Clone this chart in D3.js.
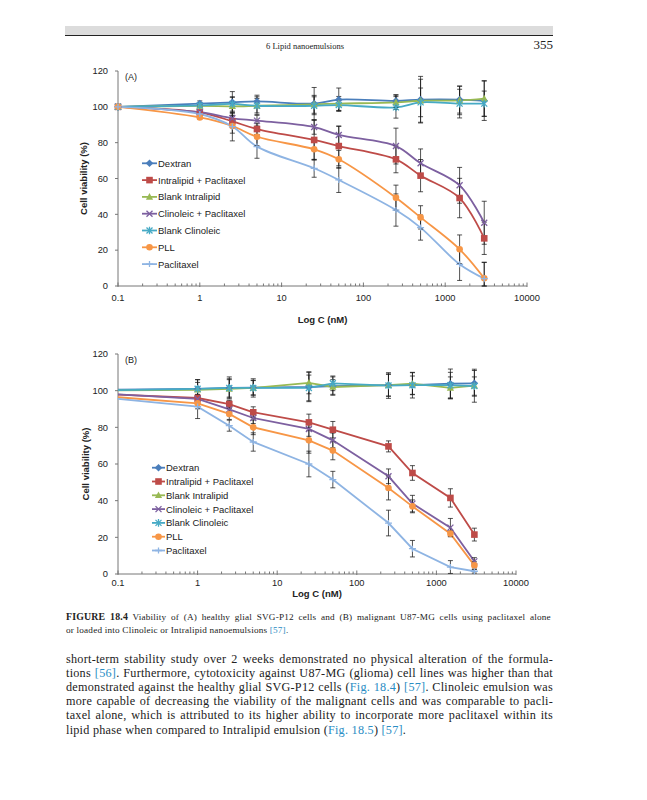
<!DOCTYPE html>
<html>
<head>
<meta charset="utf-8">
<script src="https://cdn.jsdelivr.net/npm/d3@7"></script>
<style>
  body { margin: 0; background: #fff; }
  svg { display: block; }
</style>
</head>
<body>
<div id="page"></div>
<script>
// concentrations (nM) and shared labels
const conc = [0.1, 1, 2.5, 5, 25, 50, 250, 500, 1500, 3000];
const seriesNames = ["Dextran", "Intralipid + Paclitaxel", "Blank Intralipid",
  "Clinoleic + Paclitaxel", "Blank Clinoleic", "PLL", "Paclitaxel"];
const seriesColors = ["#4a7ebb", "#be4b48", "#98b954", "#7d60a0", "#46aac5", "#f79646", "#8eb4e3"];
const seriesMarkers = ["diamond", "square", "triangle", "x", "star", "circle", "plus"];
const yTickValues = [0, 20, 40, 60, 80, 100, 120];
const xTickValues = [0.1, 1, 10, 100, 1000, 10000];

// (A) healthy glial SVG-P12 cells
const dextranA    = [100, 101.8, 102.5, 103, 101.8, 104, 103.3, 104, 104, 103.4];
const intraPacA   = [100, 96.9, 91.9, 87.6, 81.5, 78.1, 70.7, 61.6, 49.1, 26.6];
const blankIntraA = [100, 100.5, 100.3, 100.6, 101.4, 101.8, 102.5, 103.4, 103.6, 104.6];
const clinoPacA   = [100, 97, 93.6, 92.3, 88.7, 84.3, 78.1, 68.5, 56.2, 35.3];
const blankClinoA = [100, 100.8, 101.6, 100.6, 100.6, 101, 99.7, 102.5, 101.8, 101.8];
const pllA        = [100, 94.1, 89.3, 83.3, 76.3, 70.7, 49.3, 38.3, 20.5, 4.3];
const paclitaxelA = [100, 96, 89, 77.8, 65.7, 59.2, 42.4, 32.6, 12.1, 4.1];

const dextranAErr    = [0, 1.5, 6, 3.5, 9, 6.5, 3.5, 13, 7.5, 11];
const intraPacAErr   = [0, 1, 3, 3, 11, 11, 7.5, 9, 11, 9];
const blankIntraAErr = [0, 1, 5, 5, 5, 4, 4, 12, 8, 10];
const clinoPacAErr   = [0, 1, 3, 3, 4, 5, 10, 8, 10, 12];
const blankClinoAErr = [0, 1, 4, 4, 5, 3, 6, 8, 8, 7];
const pllAErr        = [0, 1, 4, 5, 6, 5, 7, 6.5, 8, 9];
const paclitaxelAErr = [0, 1, 8, 6.5, 5, 7, 9, 7, 9, 9];

// (B) malignant U87-MG cells
const dextranB    = [100.5, 101, 101.5, 101.7, 102, 102.5, 103, 103, 103.8, 104];
const intraPacB   = [97.8, 96, 92.7, 88.2, 82.7, 78.7, 69.6, 55.1, 41.5, 21.5];
const blankIntraB = [100.2, 100.5, 101, 101.5, 104.3, 102, 103, 103.8, 101.5, 102.7];
const clinoPacB   = [98, 95.5, 89.8, 85.1, 79.1, 72.9, 53.3, 38.4, 25.3, 6.9];
const blankClinoB = [100.3, 101, 101.5, 101.5, 101.5, 104, 102.8, 103, 103, 102.5];
const pllB        = [96.4, 93.1, 87.3, 80, 72.9, 67.3, 46.9, 36.9, 22, 4.7];
const paclitaxelB = [95.5, 91.3, 80.9, 72, 60, 51.5, 27.8, 13.8, 3.8, 1.5];

const dextranBErr    = [0, 5, 6, 4, 8, 5, 6, 7, 8, 7];
const intraPacBErr   = [0, 2, 2, 3, 4.5, 4.5, 3, 4, 5, 3.5];
const blankIntraBErr = [0, 4, 5, 5, 6, 4, 6, 6, 6, 9];
const clinoPacBErr   = [0, 2, 3, 3, 4, 4, 4, 4.5, 5, 2];
const blankClinoBErr = [0, 5, 5, 4, 7, 4, 7, 5, 7, 5];
const pllBErr        = [0, 3, 3, 4, 7, 5, 6.5, 3.5, 1.5, 2];
const paclitaxelBErr = [0, 6.5, 3, 5, 7, 4.5, 7, 4.5, 3.5, 1];

const W = 647, H = 800;
const svg = d3.select("#page").append("svg").attr("width", W).attr("height", H);

// running header
svg.append("rect").attr("x", 65).attr("y", 26).attr("width", 488).attr("height", 9).attr("fill", "#dcdcdc");
svg.append("line").attr("x1", 65).attr("x2", 553).attr("y1", 35.5).attr("y2", 35.5)
  .attr("stroke", "#222").attr("stroke-width", 1.2);
svg.append("text").attr("x", 305).attr("y", 49).attr("text-anchor", "middle")
  .attr("font-family", "Liberation Serif").attr("font-size", 8.5).attr("fill", "#222")
  .text("6  Lipid nanoemulsions");
svg.append("text").attr("x", 553).attr("y", 49).attr("text-anchor", "end")
  .attr("font-family", "Liberation Serif").attr("font-size", 13).attr("fill", "#222")
  .text("355");

function markerPath(type) {
  switch (type) {
    case "diamond": return "M0,-3.8L3.8,0L0,3.8L-3.8,0Z";
    case "square": return "M-3.3,-3.3H3.3V3.3H-3.3Z";
    case "triangle": return "M0,-3.8L3.6,2.8H-3.6Z";
    case "x": return "M-3,-3L3,3M-3,3L3,-3";
    case "star": return "M-3,-3L3,3M-3,3L3,-3M0,-3.8V3.8";
    case "plus": return "M-3.5,0H3.5M0,-3V3";
  }
  return null;
}

function drawMarker(g, type, color) {
  if (type === "circle") {
    g.append("circle").attr("r", 3.3).attr("fill", color);
  } else if (["x", "star", "plus"].includes(type)) {
    g.append("path").attr("d", markerPath(type)).attr("fill", "none")
      .attr("stroke", color).attr("stroke-width", 1.3);
  } else {
    g.append("path").attr("d", markerPath(type)).attr("fill", color);
  }
}

function drawPanel(cfg) {
  const x = d3.scaleLog().domain([0.1, 10000]).range([cfg.left, cfg.right]);
  const y = d3.scaleLinear().domain([0, 120]).range([cfg.bottom, cfg.top]);
  const g = svg.append("g");
  const font = "Liberation Sans, Arial, sans-serif";

  // axes
  g.append("line").attr("x1", cfg.left).attr("x2", cfg.left).attr("y1", cfg.top).attr("y2", cfg.bottom)
    .attr("stroke", "#777").attr("stroke-width", 1);
  g.append("line").attr("x1", cfg.left).attr("x2", cfg.right).attr("y1", cfg.bottom).attr("y2", cfg.bottom)
    .attr("stroke", "#777").attr("stroke-width", 1);

  g.selectAll(".ytl").data(yTickValues).enter().append("text")
    .attr("x", cfg.left - 10).attr("y", d => y(d) + 3.3)
    .attr("text-anchor", "end").attr("font-family", font).attr("font-size", 9.3).attr("fill", "#222")
    .text(d => d);
  g.selectAll(".ytk").data(yTickValues).enter().append("line")
    .attr("x1", cfg.left - 3).attr("x2", cfg.left).attr("y1", d => y(d)).attr("y2", d => y(d))
    .attr("stroke", "#777");

  // log ticks: decades plus minor 2..9
  const minor = [];
  for (let p = -1; p < 4; p++) for (let k = 2; k <= 9; k++) minor.push(k * Math.pow(10, p));
  g.selectAll(".xmn").data(minor).enter().append("line")
    .attr("x1", d => x(d)).attr("x2", d => x(d)).attr("y1", cfg.bottom - 2.5).attr("y2", cfg.bottom)
    .attr("stroke", "#777");
  g.selectAll(".xmj").data(xTickValues).enter().append("line")
    .attr("x1", d => x(d)).attr("x2", d => x(d)).attr("y1", cfg.bottom - 3.5).attr("y2", cfg.bottom + 1)
    .attr("stroke", "#777");
  g.selectAll(".xtl").data(xTickValues).enter().append("text")
    .attr("x", d => x(d)).attr("y", cfg.xLabelY).attr("text-anchor", "middle")
    .attr("font-family", font).attr("font-size", 9.3).attr("fill", "#222")
    .text(d => d3.format("~g")(d));

  g.append("text").attr("x", (cfg.left + cfg.right) / 2).attr("y", cfg.xTitleY).attr("text-anchor", "middle")
    .attr("font-family", font).attr("font-size", 9.5).attr("font-weight", "bold").attr("fill", "#222")
    .text("Log C (nM)");
  g.append("text").attr("transform", `translate(${cfg.yTitleX},${(cfg.top + cfg.bottom) / 2}) rotate(-90)`)
    .attr("text-anchor", "middle").attr("font-family", font).attr("font-size", 9.5)
    .attr("font-weight", "bold").attr("fill", "#222").text("Cell viability (%)");
  g.append("text").attr("x", cfg.left + 7).attr("y", cfg.top + 9).attr("font-family", font)
    .attr("font-size", 9).attr("fill", "#222").text(cfg.label);

  const series = seriesNames.map((name, i) => ({
    name, color: seriesColors[i], marker: seriesMarkers[i],
    pts: conc.map((c, j) => ({ c, v: cfg.values[i][j], e: cfg.errors[i][j] }))
  }));

  const line = d3.line().x(d => x(d.c)).y(d => y(d.v)).curve(cfg.curve);
  g.selectAll(".series").data(series).enter().append("path")
    .attr("d", d => line(d.pts)).attr("fill", "none")
    .attr("stroke", d => d.color).attr("stroke-width", 1.8);

  // error bars
  const errPts = series.flatMap(s => s.pts.filter(p => p.e > 0));
  const eb = g.selectAll(".err").data(errPts).enter().append("g")
    .attr("stroke", "#1a1a1a").attr("stroke-opacity", 0.75).attr("stroke-width", 1);
  eb.append("line").attr("x1", d => x(d.c)).attr("x2", d => x(d.c))
    .attr("y1", d => y(d.v + d.e)).attr("y2", d => y(Math.max(0, d.v - d.e)));
  eb.append("line").attr("x1", d => x(d.c) - 2.5).attr("x2", d => x(d.c) + 2.5)
    .attr("y1", d => y(d.v + d.e)).attr("y2", d => y(d.v + d.e));
  eb.append("line").attr("x1", d => x(d.c) - 2.5).attr("x2", d => x(d.c) + 2.5)
    .attr("y1", d => y(Math.max(0, d.v - d.e))).attr("y2", d => y(Math.max(0, d.v - d.e)));

  // markers
  series.forEach(s => {
    s.pts.filter(p => cfg.markFirst || p.c > 0.1).forEach(p => {
      const mg = g.append("g").attr("transform", `translate(${x(p.c)},${y(p.v)})`);
      drawMarker(mg, s.marker, s.color);
    });
  });

  // legend
  series.forEach((s, i) => {
    const ly = cfg.legY + i * cfg.legStep;
    g.append("line").attr("x1", cfg.legX).attr("x2", cfg.legX + cfg.legLen).attr("y1", ly).attr("y2", ly)
      .attr("stroke", s.color).attr("stroke-width", 1.8);
    const mg = g.append("g").attr("transform", `translate(${cfg.legX + cfg.legLen / 2},${ly})`);
    drawMarker(mg, s.marker, s.color);
    g.append("text").attr("x", cfg.legX + cfg.legLen + 1).attr("y", ly + 3.4)
      .attr("font-family", font).attr("font-size", 9.5).attr("fill", "#222").text(s.name);
  });
}

drawPanel({
  label: "(A)", left: 118, right: 527, top: 71, bottom: 286,
  xLabelY: 301, xTitleY: 323, yTitleX: 87,
  values: [dextranA, intraPacA, blankIntraA, clinoPacA, blankClinoA, pllA, paclitaxelA],
  errors: [dextranAErr, intraPacAErr, blankIntraAErr, clinoPacAErr, blankClinoAErr, pllAErr, paclitaxelAErr],
  curve: d3.curveCatmullRom.alpha(0.5), markFirst: true,
  legX: 142, legLen: 15, legY: 163.3, legStep: 16.8
});

drawPanel({
  label: "(B)", left: 118, right: 516, top: 354, bottom: 574,
  xLabelY: 586, xTitleY: 597, yTitleX: 89,
  values: [dextranB, intraPacB, blankIntraB, clinoPacB, blankClinoB, pllB, paclitaxelB],
  errors: [dextranBErr, intraPacBErr, blankIntraBErr, clinoPacBErr, blankClinoBErr, pllBErr, paclitaxelBErr],
  curve: d3.curveLinear, markFirst: false,
  legX: 152, legLen: 13, legY: 467.7, legStep: 13.8
});

// caption and body text, justified with letter and word spacing
const linkColor = "#2a8dc4";
function textLine(parts, yPos, size, justify, spread) {
  const t = svg.append("text").attr("x", 66).attr("y", yPos)
    .attr("font-family", "Liberation Serif, serif").attr("font-size", size).attr("fill", "#222");
  parts.forEach(p => {
    const ts = t.append("tspan").text(p.t);
    if (p.link) ts.attr("fill", linkColor);
    if (p.bold) ts.attr("font-weight", "bold").attr("font-size", p.size || size);
  });
  const full = parts.map(p => p.t).join("");
  t.attr("letter-spacing", spread);
  if (justify) {
    const natural = t.node().getComputedTextLength();
    const spaces = full.split(" ").length - 1;
    if (spaces > 0) t.attr("word-spacing", (487 - natural) / spaces);
  }
}

textLine([{ t: "FIGURE 18.4", bold: true, size: 9.8 },
  { t: "  Viability of (A) healthy glial SVG-P12 cells and (B) malignant U87-MG cells using paclitaxel alone" }],
  620, 9.2, true, 0.2);
textLine([{ t: "or loaded into Clinoleic or Intralipid nanoemulsions " }, { t: "[57]", link: true }, { t: "." }],
  632.5, 9.2, false, 0.2);

const para = [
  [{ t: "short-term stability study over 2 weeks demonstrated no physical alteration of the formula-" }],
  [{ t: "tions " }, { t: "[56]", link: true }, { t: ". Furthermore, cytotoxicity against U87-MG (glioma) cell lines was higher than that" }],
  [{ t: "demonstrated against the healthy glial SVG-P12 cells (" }, { t: "Fig. 18.4", link: true }, { t: ") " },
   { t: "[57]", link: true }, { t: ". Clinoleic emulsion was" }],
  [{ t: "more capable of decreasing the viability of the malignant cells and was comparable to pacli-" }],
  [{ t: "taxel alone, which is attributed to its higher ability to incorporate more paclitaxel within its" }],
  [{ t: "lipid phase when compared to Intralipid emulsion (" }, { t: "Fig. 18.5", link: true }, { t: ") " },
   { t: "[57]", link: true }, { t: "." }]
];
para.forEach((parts, i) => textLine(parts, 663 + i * 14.1, 12.2, i < para.length - 1, 0.25));
</script>
</body>
</html>
